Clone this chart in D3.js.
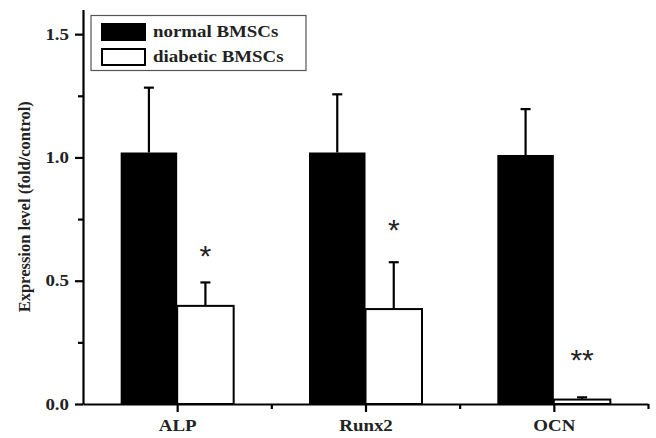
<!DOCTYPE html>
<html>
<head>
<meta charset="utf-8">
<script src="https://cdn.jsdelivr.net/npm/d3@7"></script>
<style>
  body { margin: 0; background: #fff; }
  text { font-family: "Liberation Serif", "Times New Roman", serif; font-weight: bold; }
</style>
</head>
<body>
<script>
// Data
const genes = ['ALP', 'Runx2', 'OCN'];
const normalMean = [1.02, 1.02, 1.01];
const normalSD = [0.263, 0.236, 0.186];
const diabeticMean = [0.398, 0.385, 0.018];
const diabeticSD = [0.095, 0.19, 0.009];
const sigLabels = ['*', '*', '**'];
const sigY = [0.613, 0.718, 0.19];
const yMajor = [0, 0.5, 1.0, 1.5];
const yMinor = [0.25, 0.75, 1.25];
const seriesNames = ['normal BMSCs', 'diabetic BMSCs'];

const width = 656;
const height = 438;
const stretch = 1.18; // the original figure is a bit wider than tall

const svg = d3.select('body').append('svg')
    .attr('width', width)
    .attr('height', height);

// Scales: genes sit at 1, 2, 3 on a linear axis from 0.5 to 3.5
const x = d3.scaleLinear().domain([0.5, 3.5]).range([83, 648]);
const y = d3.scaleLinear().domain([0, 1.6]).range([404, 9.5]);
const barW = x(1.3) - x(1);

// Bars
const g = svg.append('g');
genes.forEach((gene, i) => {
    const xc = x(i + 1);
    g.append('rect')
        .attr('x', xc - barW)
        .attr('y', y(normalMean[i]))
        .attr('width', barW)
        .attr('height', y(0) - y(normalMean[i]))
        .attr('fill', '#000');
    g.append('rect')
        .attr('x', xc)
        .attr('y', y(diabeticMean[i]))
        .attr('width', barW)
        .attr('height', y(0) - y(diabeticMean[i]))
        .attr('fill', '#fff')
        .attr('stroke', '#000')
        .attr('stroke-width', 2);

    // upper error bars
    const bars = [
        { cx: xc - barW / 2, m: normalMean[i], s: normalSD[i] },
        { cx: xc + barW / 2, m: diabeticMean[i], s: diabeticSD[i] }
    ];
    bars.forEach(b => {
        g.append('line')
            .attr('x1', b.cx).attr('x2', b.cx)
            .attr('y1', y(b.m)).attr('y2', y(b.m + b.s))
            .attr('stroke', '#000').attr('stroke-width', 2.2);
        g.append('line')
            .attr('x1', b.cx - 5).attr('x2', b.cx + 5)
            .attr('y1', y(b.m + b.s)).attr('y2', y(b.m + b.s))
            .attr('stroke', '#000').attr('stroke-width', 2.2);
    });

    // significance marks
    g.append('text')
        .attr('x', xc + barW / 2)
        .attr('y', y(sigY[i]) + 13)
        .attr('text-anchor', 'middle')
        .style('font-family', '"Liberation Sans", Arial, sans-serif')
        .style('font-weight', 'normal')
        .style('font-size', '30px')
        .attr('fill', '#222')
        .text(sigLabels[i]);
});

// Y axis
svg.append('g')
    .attr('transform', `translate(${x(0.5)},0)`)
    .call(d3.axisLeft(y).tickValues(yMajor).tickFormat(d3.format('.1f'))
        .tickSize(8).tickSizeOuter(0).tickPadding(6));
svg.append('g')
    .attr('transform', `translate(${x(0.5)},0)`)
    .call(d3.axisLeft(y).tickValues(yMinor).tickFormat('').tickSize(5).tickSizeOuter(0))
    .select('.domain').remove();

// X axis
svg.append('g')
    .attr('transform', `translate(0,${y(0)})`)
    .call(d3.axisBottom(x).tickValues([1, 2, 3]).tickFormat(d => genes[d - 1])
        .tickSize(8).tickSizeOuter(0).tickPadding(8));
svg.append('g')
    .attr('transform', `translate(0,${y(0)})`)
    .call(d3.axisBottom(x).tickValues([1.5, 2.5, 3.5]).tickFormat('').tickSize(5).tickSizeOuter(0))
    .select('.domain').remove();

svg.selectAll('.domain, .tick line')
    .attr('stroke', '#000')
    .attr('stroke-width', 2.2);
svg.selectAll('.tick text')
    .attr('fill', '#222')
    .style('font-family', '"Liberation Serif", "Times New Roman", serif')
    .style('font-weight', 'bold')
    .style('font-size', '16px');

// Y axis title
svg.append('text')
    .attr('transform', `translate(30,${y(0.8)}) rotate(-90)`)
    .attr('text-anchor', 'middle')
    .style('font-size', '16.5px')
    .attr('fill', '#222')
    .text('Expression level (fold/control)');

// Legend
const legend = svg.append('g');
legend.append('rect')
    .attr('x', 91).attr('y', 15.5)
    .attr('width', 215).attr('height', 55)
    .attr('fill', '#fff')
    .attr('stroke', '#555')
    .attr('stroke-width', 1.2);
seriesNames.forEach((name, i) => {
    legend.append('rect')
        .attr('x', 102).attr('y', 24 + i * 25)
        .attr('width', 43).attr('height', 16)
        .attr('fill', i === 0 ? '#000' : '#fff')
        .attr('stroke', '#000')
        .attr('stroke-width', 2);
    legend.append('text')
        .attr('x', 153).attr('y', 37 + i * 25)
        .style('font-size', '16px')
        .attr('fill', '#222')
        .text(name);
});

// widen horizontal labels to match the stretched original
svg.selectAll('.tick text').each(function () {
    const len = this.getComputedTextLength();
    if (len > 0) d3.select(this).attr('textLength', len * stretch).attr('lengthAdjust', 'spacingAndGlyphs');
});
legend.selectAll('text').each(function () {
    d3.select(this).attr('textLength', this.getComputedTextLength() * stretch).attr('lengthAdjust', 'spacingAndGlyphs');
});
</script>
</body>
</html>
